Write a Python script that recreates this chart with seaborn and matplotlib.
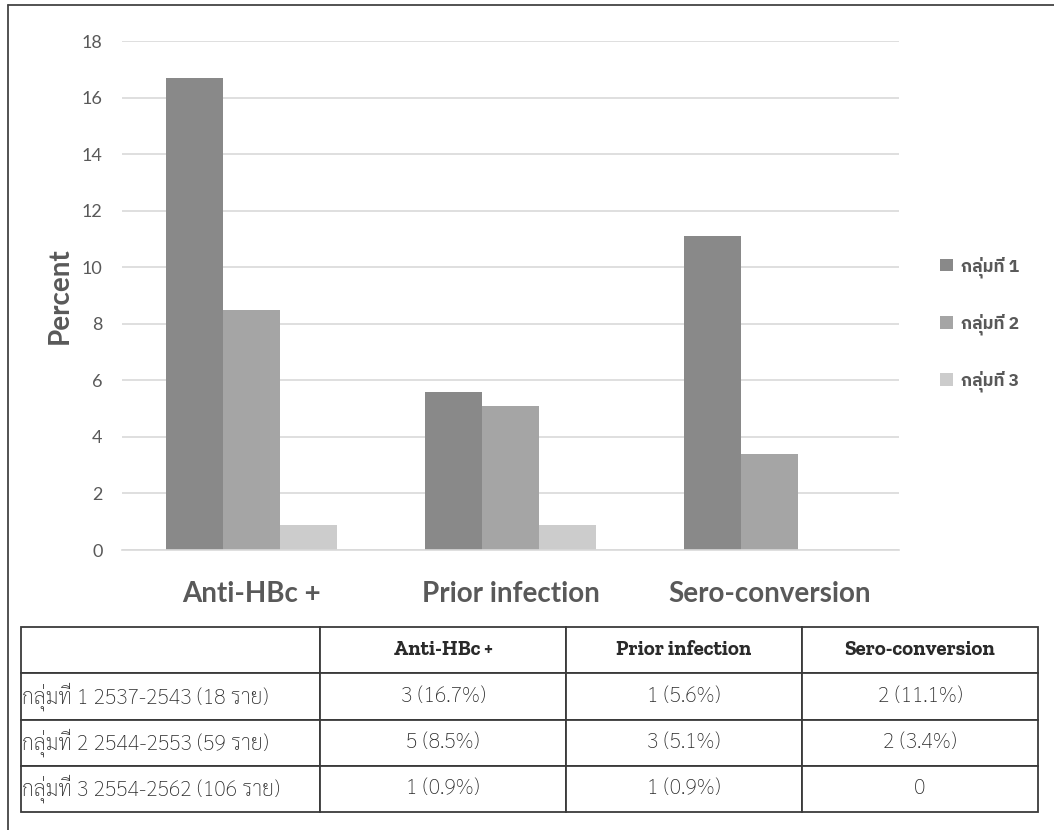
import matplotlib
matplotlib.use("Agg")
import matplotlib.pyplot as plt
from matplotlib.lines import Line2D
import seaborn as sns
import pandas as pd

# Categories and series (percent of each group)
categories = ["Anti-HBc +", "Prior infection", "Sero-conversion"]
groups = ["กลุ่มที่ 1", "กลุ่มที่ 2", "กลุ่มที่ 3"]
group_rows = ["กลุ่มที่ 1 2537-2543 (18 ราย)",
              "กลุ่มที่ 2 2544-2553 (59 ราย)",
              "กลุ่มที่ 3 2554-2562 (106 ราย)"]
pct_g1 = [16.7, 5.6, 11.1]
pct_g2 = [8.5, 5.1, 3.4]
pct_g3 = [0.9, 0.9, 0.0]
n_g1 = [3, 1, 2]
n_g2 = [5, 3, 2]
n_g3 = [1, 1, 0]
yticks = [0, 2, 4, 6, 8, 10, 12, 14, 16, 18]

colors = ["#898989", "#a5a5a5", "#cccccc"]
text_grey = "#595959"

sns.set_theme(style="white")
plt.rcParams["font.family"] = ["Lato", "Noto Sans Thai", "DejaVu Sans"]

df = pd.DataFrame({
    "category": categories * 3,
    "group": [g for g in groups for _ in categories],
    "percent": pct_g1 + pct_g2 + pct_g3,
})

fig = plt.figure(figsize=(10.54, 8.3), dpi=100)
ax = fig.add_axes([122 / 1054, 1 - 550 / 830, 777 / 1054, 509 / 830])

sns.barplot(data=df, x="category", y="percent", hue="group", order=categories,
            hue_order=groups, palette=colors, width=0.66, saturation=1,
            linewidth=0, errorbar=None, ax=ax)

ax.set_ylim(0, 18)
ax.set_yticks(yticks)
ax.set_xlim(-0.5, 2.5)
ax.grid(axis="y", color="#d9d9d9", linewidth=1.2)
ax.set_axisbelow(True)
for side in ["top", "right", "left"]:
    ax.spines[side].set_visible(False)
ax.spines["bottom"].set_color("#d9d9d9")
ax.spines["bottom"].set_linewidth(1.2)
ax.tick_params(axis="y", length=0, pad=14, labelsize=13, labelcolor=text_grey)
ax.tick_params(axis="x", length=0, pad=22, labelsize=20, labelcolor=text_grey)
for lbl in ax.get_xticklabels():
    lbl.set_fontweight("bold")
ax.set_xlabel("")
ax.set_ylabel("Percent", fontsize=20, fontweight="bold", color=text_grey)
ax.yaxis.set_label_coords(-0.064, 0.5)

handles, labels = ax.get_legend_handles_labels()
leg = ax.legend(handles, labels, loc="center left",
                bbox_to_anchor=(931 / 1054, 1 - 324 / 830),
                bbox_transform=fig.transFigure, frameon=False, borderpad=0,
                handlelength=0.75, handleheight=0.75, handletextpad=0.45,
                labelspacing=2.05,
                prop={"family": ["IBM Plex Sans Thai", "Noto Sans Thai", "DejaVu Sans"],
                      "weight": "bold", "size": 12.5})
for t in leg.get_texts():
    t.set_color(text_grey)

# Summary table under the chart
tax = fig.add_axes([21 / 1054, 1 - 812 / 830, 1017 / 1054, 185 / 830])
tax.axis("off")


def cell_text(n, p):
    return "0" if n == 0 else f"{n} ({p:.1f}%)"


rows = [[""] + categories]
for name, ns, ps in zip(group_rows, [n_g1, n_g2, n_g3], [pct_g1, pct_g2, pct_g3]):
    rows.append([name] + [cell_text(n, p) for n, p in zip(ns, ps)])

col_w = [299, 246, 236, 236]
tot = sum(col_w)
tbl = tax.table(cellText=rows, colWidths=[w / tot for w in col_w],
                cellLoc="center", bbox=[0, 0, 1, 1])
tbl.auto_set_font_size(False)
for (r, c), cell in tbl.get_celld().items():
    cell.set_edgecolor("#3a3a3a")
    cell.set_linewidth(1.3)
    txt = cell.get_text()
    txt.set_color("#2a2a2a")
    if r == 0:
        txt.set_fontfamily(["Roboto Slab", "Zilla Slab", "Noto Serif", "DejaVu Serif"])
        txt.set_fontweight("bold")
        txt.set_fontsize(15)
    else:
        txt.set_fontfamily(["Sarabun", "Noto Sans Thai Looped", "DejaVu Sans"])
        txt.set_fontweight("light")
        txt.set_fontsize(15.3)
    if c == 0 and r > 0:
        cell._loc = "left"
        cell.PAD = 0.004
        txt.set_horizontalalignment("left")

# Outer frame (left and top edges)
fig.add_artist(Line2D([8 / 1054, 8 / 1054], [0, 1 - 5 / 830],
                      transform=fig.transFigure, color="#444444", linewidth=1.3))
fig.add_artist(Line2D([8 / 1054, 1], [1 - 5 / 830, 1 - 5 / 830],
                      transform=fig.transFigure, color="#444444", linewidth=1.3))

fig.savefig("out.png", dpi=100)
